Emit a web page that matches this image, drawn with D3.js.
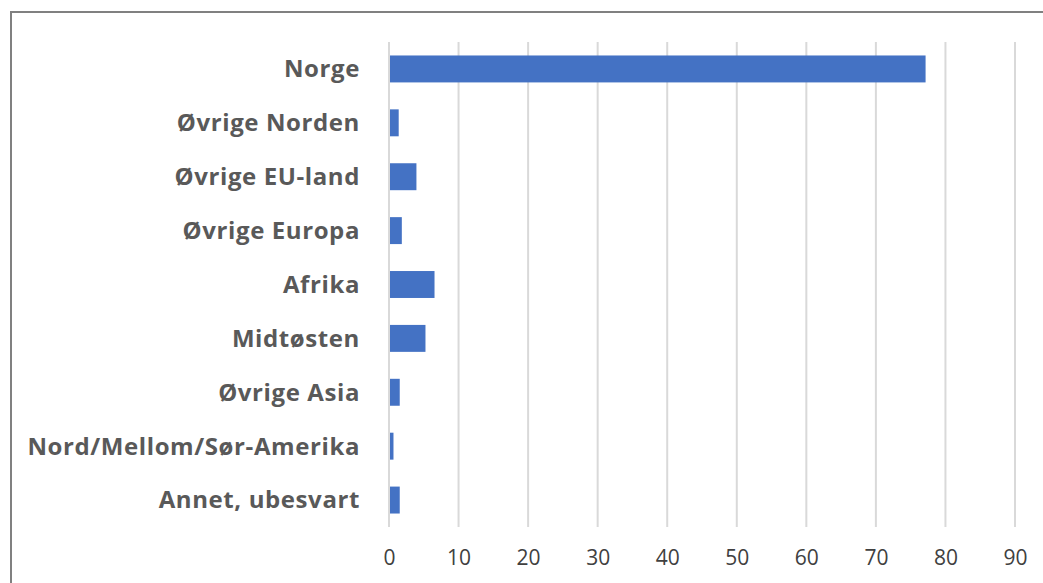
<!DOCTYPE html>
<html>
<head>
<meta charset="utf-8">
<script src="https://cdn.jsdelivr.net/npm/d3@7"></script>
<style>
  body { margin: 0; background: #fff; }
  .label { font-family: "Open Sans", sans-serif; font-weight: bold; font-size: 24px; letter-spacing: 0.6px; fill: #595959; }
  .tick text { font-family: "Open Sans", sans-serif; font-size: 21px; fill: #404040; }
</style>
</head>
<body>
<svg width="1043" height="583"></svg>
<script>
const categories = ["Norge", "Øvrige Norden", "Øvrige EU-land", "Øvrige Europa", "Afrika",
                    "Midtøsten", "Øvrige Asia", "Nord/Mellom/Sør-Amerika", "Annet, ubesvart"]
const values = [77.0, 1.25, 3.8, 1.7, 6.4, 5.1, 1.4, 0.5, 1.4]
const xTicks = [0, 10, 20, 30, 40, 50, 60, 70, 80, 90]

const svg = d3.select("svg"),
      margin = {top: 42, left: 389, right: 28, bottom: 56},
      width = svg.attr("width") - margin.left - margin.right,
      height = svg.attr("height") - margin.top - margin.bottom

// chart border (right and bottom edges fall outside the picture)
svg.append("rect")
  .attr("x", 11).attr("y", 12)
  .attr("width", 1100).attr("height", 700)
  .attr("fill", "none")
  .attr("stroke", "#808080")
  .attr("stroke-width", 2)

const g = svg.append("g").attr("transform", "translate(" + margin.left + "," + margin.top + ")")

const x = d3.scaleLinear().domain([0, 90]).range([0, width]),
      y = d3.scaleBand().domain(categories).range([0, height]).paddingInner(0.5).paddingOuter(0.25)

// gridlines
g.selectAll(".grid")
  .data(xTicks)
  .enter().append("line")
    .attr("x1", d => x(d)).attr("x2", d => x(d))
    .attr("y1", 0).attr("y2", height)
    .attr("stroke", "#d9d9d9")
    .attr("stroke-width", 2)

g.selectAll(".bar")
  .data(values)
  .enter().append("rect")
    .attr("x", x(0) + 1)
    .attr("y", (d, i) => y(categories[i]))
    .attr("width", d => x(d) - x(0))
    .attr("height", y.bandwidth())
    .attr("fill", "#4472C4")

g.selectAll(".label")
  .data(categories)
  .enter().append("text")
    .attr("class", "label")
    .attr("x", -29)
    .attr("y", d => y(d) + y.bandwidth() / 2)
    .attr("dy", "0.35em")
    .attr("text-anchor", "end")
    .text(d => d)

const xAxis = g.append("g")
  .attr("transform", "translate(0," + height + ")")
  .call(d3.axisBottom(x).tickValues(xTicks).tickSize(0).tickPadding(23))
xAxis.select(".domain").remove()
</script>
</body>
</html>
